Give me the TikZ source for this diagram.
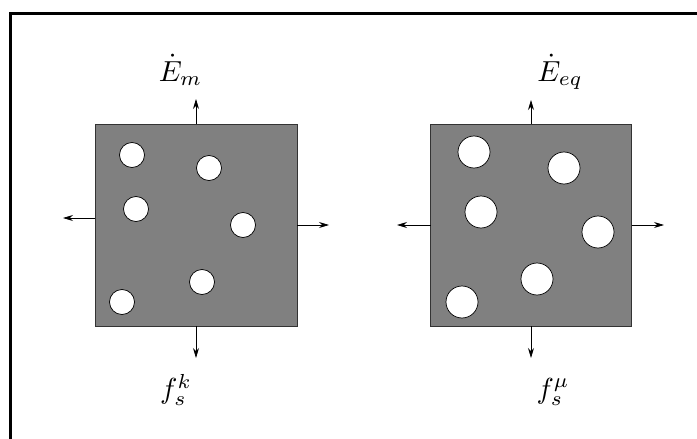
\documentclass[tikz,border=0pt]{standalone}
\usetikzlibrary{arrows.meta}
\begin{document}
\begin{tikzpicture}[x=1pt,y=-1pt,
  panel/.style={draw=black!80,line width=0.8pt,fill=black!50,minimum width=202pt,minimum height=202pt,inner sep=0pt,outer sep=0pt},
  smallbub/.style={circle,draw=black,line width=0.7pt,fill=white,minimum size=25pt,inner sep=0pt},
  bigbub/.style={circle,draw=black,line width=0.7pt,fill=white,minimum size=32pt,inner sep=0pt},
  flux/.style={line width=0.8pt,-{Stealth[length=10pt,width=6pt]}},
  lab/.style={scale=2.9,inner sep=0pt}]
\useasboundingbox (0,0) rectangle (697,439);
\draw[line width=3pt] (10.5,13) rectangle (720,460);
% left panel
\node[panel] (L) at (196,225) {};
\node[smallbub] (l1) at (132,155) {};
\node[smallbub] (l2) at (209,168) {};
\node[smallbub] (l3) at (136,209) {};
\node[smallbub] (l4) at (243,225) {};
\node[smallbub] (l5) at (202,282) {};
\node[smallbub] (l6) at (122,302) {};
\coordinate (Lt) at (196,99);
\coordinate (Lb) at (196,358);
\coordinate (Ll) at (63,218);
\coordinate (Lr) at (329,225);
\draw[flux] (L.north) -- (Lt);
\draw[flux] (L.south) -- (Lb);
\draw[flux] ([yshift=7pt]L.west) -- (Ll);
\draw[flux] (L.east) -- (Lr);
\node[lab,anchor=base] (Em) at (180.5,81) {$\dot E_m$};
\node[lab] (fk) at (176,390) {$f_s^k$};
% right panel
\node[panel,minimum width=201pt] (R) at (531,225) {};
\node[bigbub] (r1) at (474,152) {};
\node[bigbub] (r2) at (564,168) {};
\node[bigbub] (r3) at (481,212) {};
\node[bigbub] (r4) at (598,232) {};
\node[bigbub] (r5) at (537,279) {};
\node[bigbub] (r6) at (462,302) {};
\coordinate (Rt) at (531,100);
\coordinate (Rb) at (531,358);
\coordinate (Rl) at (397,225);
\coordinate (Rr) at (664,225);
\draw[flux] (R.north) -- (Rt);
\draw[flux] (R.south) -- (Rb);
\draw[flux] (R.west) -- (Rl);
\draw[flux] (R.east) -- (Rr);
\node[lab,anchor=base] (Eeq) at (560,81) {$\dot E_{eq}$};
\node[lab] (fmu) at (553,392) {$f_s^\mu$};
\end{tikzpicture}
\end{document}
